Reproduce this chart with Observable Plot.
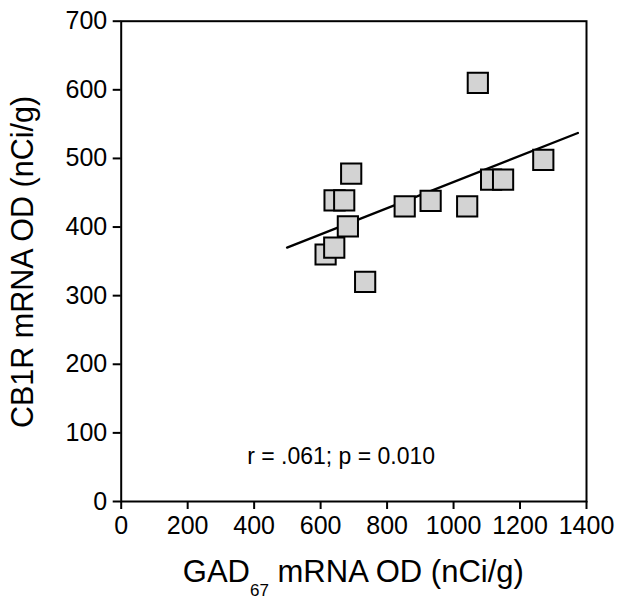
<!DOCTYPE html>
<html>
<head>
<meta charset="utf-8">
<script src="https://cdn.jsdelivr.net/npm/d3@7"></script>
<script src="https://cdn.jsdelivr.net/npm/@observablehq/plot@0.6"></script>
<style>
  html, body { margin: 0; padding: 0; background: white; }
</style>
</head>
<body>
<div id="chart"></div>
<script>
// Data
const gad67 = [1073, 692, 642, 671, 682, 615, 641, 734, 853, 931, 1041, 1113, 1149, 1270];
const cb1r  = [ 610, 478, 439, 439, 401, 360, 370, 320, 430, 438,  430,  469,  469,  498];
const fitX = [499, 1374];
const fitY = [370, 537];
const xTicks = [0, 200, 400, 600, 800, 1000, 1200, 1400];
const yTicks = [0, 100, 200, 300, 400, 500, 600, 700];
const statText = ["r = .061; p = 0.010"];
const statX = [379];
const statY = [55];
const xTitleMain = "GAD";
const xTitleSub = "67";
const xTitleRest = " mRNA OD (nCi/g)";
const yTitle = "CB1R mRNA OD (nCi/g)";

const points = gad67.map((x, i) => ({x, y: cb1r[i]}));
const fit = fitX.map((x, i) => ({x, y: fitY[i]}));
const stats = statText.map((t, i) => ({t, x: statX[i], y: statY[i]}));

const font = "'Liberation Sans', Arial, Helvetica, sans-serif";

const svg = Plot.plot({
  width: 624,
  height: 605,
  marginLeft: 120.7,
  marginTop: 20.7,
  marginRight: 38,
  marginBottom: 104,
  style: {fontFamily: font, fontSize: "25px", color: "black", background: "white"},
  x: {domain: [0, 1400]},
  y: {domain: [0, 700]},
  marks: [
    Plot.axisX({ticks: xTicks, tickSize: 8, tickPadding: 7, tickFormat: d => String(d), label: null, strokeWidth: 2, fontSize: 25}),
    Plot.axisY({ticks: yTicks, tickSize: 8, tickPadding: 6, tickFormat: d => String(d), label: null, strokeWidth: 2, fontSize: 25}),
    Plot.line(fit, {x: "x", y: "y", stroke: "black", strokeWidth: 2.3}),
    Plot.dot(points, {x: "x", y: "y", symbol: "square", r: 11.4, fill: "#d3d3d3", stroke: "black", strokeWidth: 2}),
    Plot.text(stats, {x: "x", y: "y", text: "t", textAnchor: "start", lineAnchor: "bottom", fontSize: 23, fill: "black"}),
    Plot.frame({stroke: "black", strokeWidth: 2})
  ]
});

const s = d3.select(svg);
const xt = s.append("text")
  .attr("x", (120.7 + 586) / 2)
  .attr("y", 582)
  .attr("text-anchor", "middle")
  .attr("font-family", font)
  .attr("font-size", 31)
  .attr("fill", "black");
xt.append("tspan").text(xTitleMain);
xt.append("tspan").attr("font-size", 17).attr("dy", 14).text(xTitleSub);
xt.append("tspan").attr("dy", -14).text(xTitleRest);

s.append("text")
  .attr("transform", "translate(33,262) rotate(-90)")
  .attr("text-anchor", "middle")
  .attr("font-family", font)
  .attr("font-size", 30.5)
  .attr("fill", "black")
  .text(yTitle);

document.getElementById("chart").appendChild(svg);
</script>
</body>
</html>
